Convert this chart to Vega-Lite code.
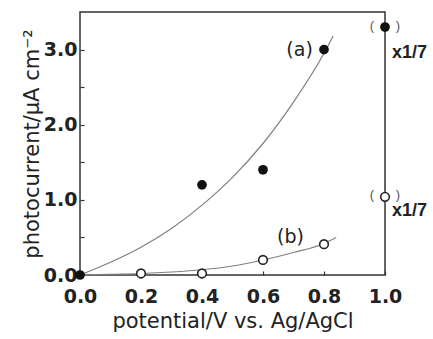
{
  "$schema": "https://vega.github.io/schema/vega-lite/v6.json",
  "width": 305,
  "height": 263,
  "autosize": "none",
  "padding": {"left": 80, "top": 12, "right": 48, "bottom": 64},
  "background": "white",
  "config": {
    "view": {"stroke": "#333", "strokeWidth": 1.5},
    "font": "DejaVu Sans"
  },
  "datasets": {
    "curves": [
      {"series": "a", "x": 0, "y": 0},
      {"series": "a", "x": 0.1, "y": 0.17},
      {"series": "a", "x": 0.2, "y": 0.37},
      {"series": "a", "x": 0.3, "y": 0.62},
      {"series": "a", "x": 0.4, "y": 0.93},
      {"series": "a", "x": 0.5, "y": 1.3},
      {"series": "a", "x": 0.6, "y": 1.75},
      {"series": "a", "x": 0.7, "y": 2.3},
      {"series": "a", "x": 0.8, "y": 2.95},
      {"series": "a", "x": 0.83, "y": 3.18},
      {"series": "b", "x": 0, "y": 0},
      {"series": "b", "x": 0.1, "y": 0.01},
      {"series": "b", "x": 0.2, "y": 0.02},
      {"series": "b", "x": 0.3, "y": 0.04},
      {"series": "b", "x": 0.4, "y": 0.07},
      {"series": "b", "x": 0.5, "y": 0.12},
      {"series": "b", "x": 0.6, "y": 0.2},
      {"series": "b", "x": 0.7, "y": 0.3},
      {"series": "b", "x": 0.8, "y": 0.42},
      {"series": "b", "x": 0.84, "y": 0.5}
    ],
    "pointsA": [
      {"x": 0, "y": 0},
      {"x": 0.4, "y": 1.2},
      {"x": 0.6, "y": 1.4},
      {"x": 0.8, "y": 3.0},
      {"x": 1.0, "y": 3.3}
    ],
    "pointsB": [
      {"x": 0.2, "y": 0.02},
      {"x": 0.4, "y": 0.02},
      {"x": 0.6, "y": 0.2},
      {"x": 0.8, "y": 0.41},
      {"x": 1.0, "y": 1.04}
    ],
    "labels": [
      {"x": 0.72, "y": 3.0, "text": "(a)"},
      {"x": 0.69, "y": 0.5, "text": "(b)"}
    ],
    "scales": [
      {"x": 1.0, "y": 2.96, "text": "x1/7"},
      {"x": 1.0, "y": 0.85, "text": "x1/7"}
    ],
    "parens": [
      {"x": 1.0, "y": 3.32, "text": "(\u00a0\u00a0\u00a0\u00a0\u00a0\u00a0)"},
      {"x": 1.0, "y": 1.07, "text": "(\u00a0\u00a0\u00a0\u00a0\u00a0\u00a0)"}
    ]
  },
  "layer": [
    {
      "data": {"name": "curves"},
      "mark": {"type": "line", "interpolate": "monotone", "color": "#808080", "strokeWidth": 1.2},
      "encoding": {
        "x": {
          "field": "x", "type": "quantitative",
          "scale": {"domain": [0, 1], "nice": false},
          "axis": {
            "title": "potential/V vs. Ag/AgCl",
            "titleFont": "DejaVu Sans", "titleFontSize": 21, "titleFontWeight": "normal", "titleColor": "#222", "titlePadding": 4,
            "values": [0, 0.2, 0.4, 0.6, 0.8, 1.0], "format": ".1f",
            "labelFontSize": 19, "labelFontWeight": "bold", "labelColor": "#222", "labelPadding": 16,
            "labelFlush": false, "labelOverlap": false,
            "grid": false, "domain": false, "tickSize": -4, "tickColor": "#333", "tickWidth": 1.2
          }
        },
        "y": {
          "field": "y", "type": "quantitative",
          "scale": {"domain": [0, 3.5], "nice": false},
          "axis": {
            "title": "photocurrent/μA cm⁻²",
            "titleFont": "DejaVu Sans", "titleFontSize": 21, "titleFontWeight": "normal", "titleColor": "#222", "titlePadding": 1,
            "values": [0, 0.5, 1, 1.5, 2, 2.5, 3], "format": ".1f",
            "labelExpr": "datum.value % 1 == 0 ? datum.label : ''",
            "labelFontSize": 19, "labelFontWeight": "bold", "labelColor": "#222", "labelPadding": 7,
            "labelFlush": false, "labelOverlap": false,
            "grid": false, "domain": false, "tickSize": -4, "tickColor": "#333", "tickWidth": 1.2
          }
        },
        "detail": {"field": "series"}
      }
    },
    {
      "data": {"name": "pointsB"},
      "mark": {"type": "point", "shape": "circle", "filled": false, "stroke": "#222", "strokeWidth": 1.6, "size": 75, "fill": "white", "fillOpacity": 1, "clip": false},
      "encoding": {
        "x": {"field": "x", "type": "quantitative"},
        "y": {"field": "y", "type": "quantitative"}
      }
    },
    {
      "data": {"name": "pointsA"},
      "mark": {"type": "point", "shape": "circle", "filled": true, "color": "#111", "opacity": 1, "size": 95, "clip": false},
      "encoding": {
        "x": {"field": "x", "type": "quantitative"},
        "y": {"field": "y", "type": "quantitative"}
      }
    },
    {
      "data": {"name": "labels"},
      "mark": {"type": "text", "fontSize": 19, "color": "#222", "align": "center", "baseline": "middle"},
      "encoding": {
        "x": {"field": "x", "type": "quantitative"},
        "y": {"field": "y", "type": "quantitative"},
        "text": {"field": "text"}
      }
    },
    {
      "data": {"name": "scales"},
      "mark": {"type": "text", "font": "Liberation Sans", "fontSize": 18, "fontWeight": "bold", "color": "#222", "align": "left", "baseline": "middle", "dx": 7, "clip": false},
      "encoding": {
        "x": {"field": "x", "type": "quantitative"},
        "y": {"field": "y", "type": "quantitative"},
        "text": {"field": "text"}
      }
    },
    {
      "data": {"name": "parens"},
      "mark": {"type": "text", "font": "Liberation Sans", "fontSize": 13, "color": "#555", "align": "center", "baseline": "middle", "clip": false},
      "encoding": {
        "x": {"field": "x", "type": "quantitative"},
        "y": {"field": "y", "type": "quantitative"},
        "text": {"field": "text"}
      }
    }
  ]
}
